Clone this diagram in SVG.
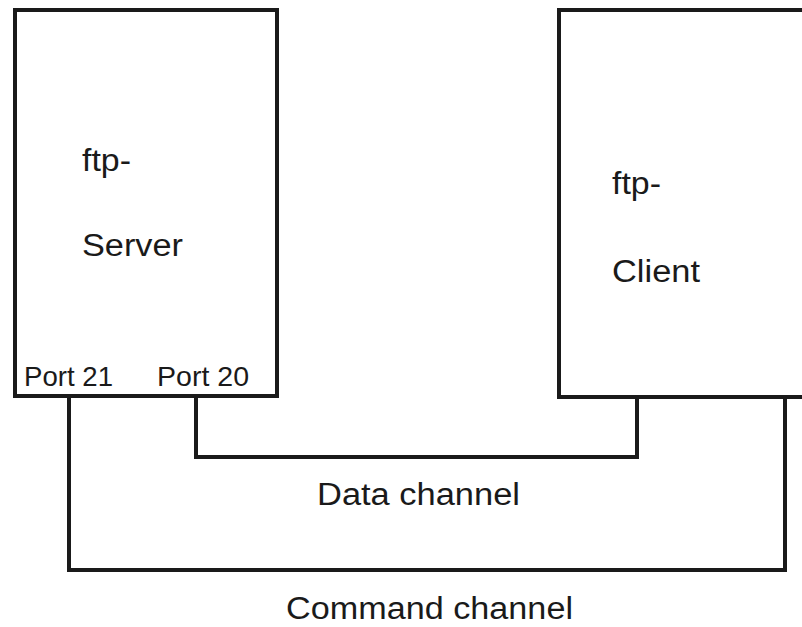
<svg xmlns="http://www.w3.org/2000/svg" width="802" height="627" viewBox="0 0 802 627">
<style>
.box{fill:#fff;stroke:#1a1a1a;stroke-width:4}
.wire{fill:none;stroke:#1a1a1a;stroke-width:4}
.lbl{font-family:"Liberation Sans",Arial,Helvetica,sans-serif;font-size:31px;fill:#1a1a1a}
.port{font-family:"Liberation Sans",Arial,Helvetica,sans-serif;font-size:28px;fill:#1a1a1a}
</style>
<rect width="802" height="627" fill="#fff"/>
<g id="connectors">
<polyline class="wire" points="196,396 196,457 637,457 637,397"/>
<polyline class="wire" points="69,396 69,570 785,570 785,397"/>
</g>
<g id="server">
<rect class="box" x="15" y="10" width="262" height="386"/>
<text class="lbl" x="82" y="171" textLength="49" lengthAdjust="spacingAndGlyphs">ftp-</text>
<text class="lbl" x="82" y="256" textLength="101" lengthAdjust="spacingAndGlyphs">Server</text>
<text class="port" x="24" y="386" textLength="89" lengthAdjust="spacingAndGlyphs">Port 21</text>
<text class="port" x="157" y="386" textLength="92" lengthAdjust="spacingAndGlyphs">Port 20</text>
</g>
<g id="client">
<rect class="box" x="559" y="10" width="260" height="387"/>
<text class="lbl" x="612" y="194" textLength="49" lengthAdjust="spacingAndGlyphs">ftp-</text>
<text class="lbl" x="612" y="282" textLength="88" lengthAdjust="spacingAndGlyphs">Client</text>
</g>
<g id="labels">
<text class="lbl" x="317" y="505" textLength="203" lengthAdjust="spacingAndGlyphs">Data channel</text>
<text class="lbl" x="286" y="619" textLength="287" lengthAdjust="spacingAndGlyphs">Command channel</text>
</g>
</svg>
